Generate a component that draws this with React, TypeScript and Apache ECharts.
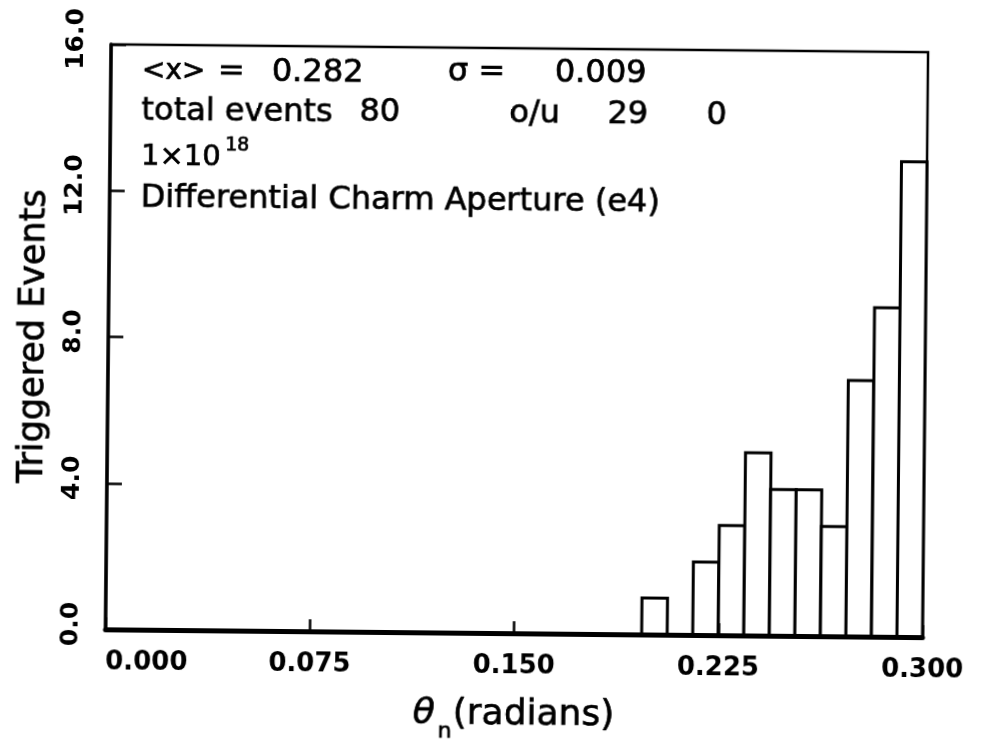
import React, { useEffect, useRef } from "react";
import * as echarts from "echarts";

// Histogram of triggered events per θn bin (32 equal bins over 0 – 0.300 rad)
const binCounts = [
  0, 0, 0, 0, 0, 0, 0, 0, 0, 0,
  0, 0, 0, 0, 0, 0, 0, 0, 0, 0,
  0, 1, 0, 2, 3, 5, 4, 4, 3, 7,
  9, 13,
];
const xRange = [0, 0.3];
const yRange = [0, 16];
const xTickStep = 0.075;
const yTickStep = 4;

// Summary statistics printed in the frame
const meanX = 0.282;
const sigma = 0.009;
const totalEvents = 80;
const overUnder = [29, 0];
const exposureExponent = 18;
const plotTitle = "Differential Charm Aperture (e4)";
const yAxisTitle = "Triggered Events";

const FONT = "DejaVu Sans";

export default function App() {
  const ref = useRef<HTMLDivElement>(null);

  useEffect(() => {
    if (!ref.current) return;
    const chart = echarts.init(ref.current, undefined, { renderer: "svg" });

    const binWidth = (xRange[1] - xRange[0]) / binCounts.length;
    const bins = binCounts.map((c, i) => [
      xRange[0] + i * binWidth,
      xRange[0] + (i + 1) * binWidth,
      c,
    ]);

    // plotter-style lettering: thin outline stroke thickens the glyphs
    const txt = (text: string, x: number, y: number, size = 32, extra: any = {}) => ({
      type: "text",
      x,
      y,
      style: {
        text,
        fontFamily: FONT,
        fontSize: size,
        fill: "#000",
        stroke: "#000",
        lineWidth: 0.7,
        verticalAlign: "middle",
        ...extra,
      },
    });

    chart.setOption({
      animation: false,
      backgroundColor: "#fff",
      textStyle: { fontFamily: FONT },
      grid: {
        left: 108,
        right: 56,
        top: 48,
        bottom: 110,
        show: true,
        borderColor: "#000",
        borderWidth: 2.5,
        backgroundColor: "transparent",
      },
      xAxis: {
        type: "value",
        min: xRange[0],
        max: xRange[1],
        interval: xTickStep,
        z: 10,
        axisLine: { lineStyle: { color: "#000", width: 5 } },
        axisTick: { inside: true, length: 12, lineStyle: { color: "#000", width: 2.5 } },
        splitLine: { show: false },
        axisLabel: {
          formatter: (v: number) => v.toFixed(3),
          color: "#000",
          fontFamily: FONT,
          fontWeight: "bold",
          fontSize: 26,
          margin: 18,
          alignMinLabel: "left",
        },
      },
      yAxis: {
        type: "value",
        min: yRange[0],
        max: yRange[1],
        interval: yTickStep,
        z: 10,
        axisLine: { lineStyle: { color: "#000", width: 3.5 } },
        axisTick: { inside: true, length: 15, lineStyle: { color: "#000", width: 2.5 } },
        splitLine: { show: false },
        axisLabel: {
          formatter: (v: number) => v.toFixed(1),
          rotate: 90,
          color: "#000",
          fontFamily: FONT,
          fontWeight: "bold",
          fontSize: 25,
          margin: 24,
          padding: [0, 0, 0, 10],
        },
        name: yAxisTitle,
        nameLocation: "middle",
        nameRotate: 90,
        nameGap: 60,
        nameTextStyle: {
          color: "#000",
          fontFamily: FONT,
          fontSize: 35,
          textBorderColor: "#000",
          textBorderWidth: 0.7,
        },
      },
      series: [
        {
          type: "custom",
          data: bins,
          encode: { x: [0, 1], y: 2 },
          z: 5,
          renderItem: (params: any, api: any) => {
            const count = api.value(2);
            if (!count) return { type: "group", children: [] };
            const p0 = api.coord([api.value(0), 0]);
            const p1 = api.coord([api.value(1), count]);
            return {
              type: "rect",
              shape: {
                x: p0[0],
                y: p1[1],
                width: p1[0] - p0[0],
                height: p0[1] - p1[1],
              },
              style: { fill: "#fff", stroke: "#000", lineWidth: 3 },
            };
          },
        },
      ],
      graphic: [
        // statistics block
        txt("<x>", 139, 72, 28),
        txt("=", 215, 72),
        txt(meanX.toFixed(3), 269, 72),
        txt("σ =", 445, 70),
        txt(sigma.toFixed(3), 552, 70),
        txt("total events", 139, 112),
        txt(String(totalEvents), 357, 111),
        txt("o/u", 507, 111),
        txt(String(overUnder[0]), 605, 111),
        txt(String(overUnder[1]), 704, 111),
        txt("1×10", 139, 158, 29),
        txt(String(exposureExponent), 223, 146, 19),
        txt(plotTitle, 139, 199),
        // x-axis title
        txt("θ", 416, 711, 36, { fontStyle: "italic" }),
        txt("n", 441, 730, 22),
        txt("(radians)", 456, 711, 36),
      ],
    });

    return () => chart.dispose();
  }, []);

  return (
    <div
      ref={ref}
      style={{
        position: "fixed",
        left: 0,
        top: 0,
        width: 981,
        height: 743,
        background: "#fff",
        transform: "rotate(0.55deg)",
      }}
    />
  );
}
